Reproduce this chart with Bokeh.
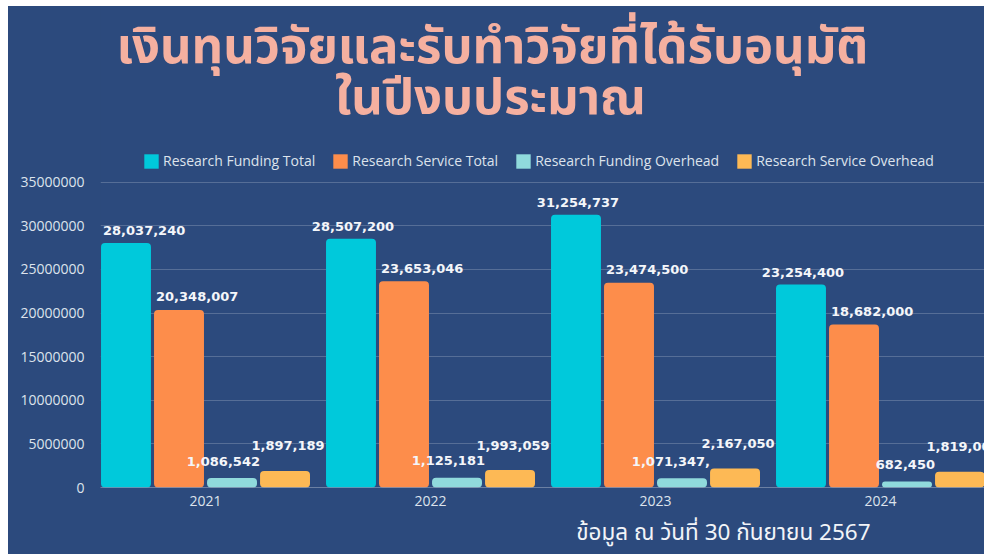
from bokeh.plotting import figure
from bokeh.models import (ColumnDataSource, Range1d, FixedTicker, BasicTickFormatter,
                          Label, Legend, LegendItem, Title)
from bokeh.core.properties import value
from bokeh.embed import file_html
from bokeh.resources import INLINE

# ---- data ----
years = ["2021", "2022", "2023", "2024"]
funding_total = [28037240, 28507200, 31254737, 23254400]
service_total = [20348007, 23653046, 23474500, 18682000]
funding_overhead = [1086542, 1125181, 1071347, 682450]
service_overhead = [1897189, 1993059, 2167050, 1819000]
funding_overhead_labels = ["1,086,542", "1,125,181", "1,071,347,", "682,450"]
series_names = ["Research Funding Total", "Research Service Total",
                "Research Funding Overhead", "Research Service Overhead"]
y_ticks = [0, 5000000, 10000000, 15000000, 20000000, 25000000, 30000000, 35000000]

title_line1 = "เงินทุนวิจัยและรับทำวิจัยที่ได้รับอนุมัติ"
title_line2 = "ในปีงบประมาณ"
footer_text = "ข้อมูล ณ วันที่ 30 กันยายน 2567"

# ---- styles ----
BG = "#2c4a7d"
colors = ["#00c9db", "#fd8d4b", "#90dadc", "#fdb955"]
TXT = "#dde3ec"
THAI_FONT = "Noto Sans Thai"

series = [funding_total, service_total, funding_overhead, service_overhead]
labels = [[f"{v:,}" for v in funding_total],
          [f"{v:,}" for v in service_total],
          funding_overhead_labels,
          [f"{v:,}" for v in service_overhead]]
aligns = [["left", "center", "center", "center"],
          ["left"] * 4,
          ["right"] * 4,
          ["center"] * 4]
x_offs = [2, 2, 3, 3]
y_offs = [-12, -13, -17, -25]

# layout geometry (page px)
FIG_X, FIG_Y = 8, 6
W, H = 976, 548
FRAME_L, FRAME_B = 100, 488
PX_35M = 306.0
X0 = -0.4667
CAT_PX = 225.0
frame_h = FRAME_B - FIG_Y
frame_w = FIG_X + W - FRAME_L
y_max = 35000000 * frame_h / PX_35M

def xd(px):
    return X0 + (px - FRAME_L) / CAT_PX

def yd(py):
    return (FRAME_B - py) * 35000000 / PX_35M

step = 0.2356
bw = 0.222

p = figure(width=W, height=H, output_backend="svg", toolbar_location=None,
           x_range=Range1d(X0, X0 + frame_w / CAT_PX), y_range=Range1d(0, y_max),
           min_border_left=FRAME_L - FIG_X, min_border_right=0, min_border_top=0,
           min_border_bottom=FIG_Y + H - FRAME_B)
p.margin = (FIG_Y, 0, 0, FIG_X)
p.styles = {"background-color": BG}
p.background_fill_color = BG
p.border_fill_color = BG
p.outline_line_color = None

items = []
for i, vals in enumerate(series):
    off = (i - 1.5) * step
    xs = [k + off for k in range(len(years))]
    anchor = []
    for k, a in enumerate(aligns[i]):
        if a == "left":
            anchor.append(xs[k] - bw / 2)
        elif a == "right":
            anchor.append(xs[k] + bw / 2)
        else:
            anchor.append(xs[k])
    src = ColumnDataSource(dict(x=xs, top=vals, lx=anchor, lab=labels[i], al=aligns[i]))
    r = p.vbar(x="x", top="top", width=bw, source=src, fill_color=colors[i],
               line_color=None, border_radius=4)
    items.append(LegendItem(label=series_names[i], renderers=[r]))
    p.text(x="lx", y="top", text="lab", source=src, text_align="al",
           text_baseline="middle", x_offset=x_offs[i], y_offset=y_offs[i],
           text_color="#f4f6fa", text_font_size="13px", text_font_style="bold",
           text_font=value("DejaVu Sans"))

legend = Legend(items=items, orientation="horizontal", location=(42, 317),
                glyph_width=18, glyph_height=18, label_standoff=3, spacing=16,
                padding=0, margin=0, background_fill_alpha=0, border_line_color=None,
                label_text_font="Open Sans", label_text_font_size="14px",
                label_text_color=TXT, label_height=18)
p.add_layout(legend, "center")

# axes
p.xaxis.ticker = FixedTicker(ticks=list(range(len(years))))
p.xaxis.major_label_overrides = {k: y for k, y in enumerate(years)}
p.yaxis.ticker = FixedTicker(ticks=y_ticks)
p.yaxis.formatter = BasicTickFormatter(use_scientific=False)
for ax in (p.xaxis, p.yaxis):
    ax.major_tick_line_color = None
    ax.minor_tick_line_color = None
    ax.major_label_text_font = "Open Sans"
    ax.major_label_text_font_size = "14px"
    ax.major_label_text_color = TXT
p.yaxis.axis_line_color = None
p.yaxis.major_label_standoff = 10
p.xaxis.axis_line_color = "#ffffff"
p.xaxis.axis_line_alpha = 0.3
p.xaxis.major_label_standoff = 2
p.xgrid.grid_line_color = None
p.ygrid.grid_line_color = "#ffffff"
p.ygrid.grid_line_alpha = 0.2

# titles (inside the frame area)
for txt, (px, py) in ((title_line1, (492, 48)), (title_line2, (490, 99))):
    p.add_layout(Label(x=xd(px), y=yd(py), text=txt,
                       text_align="center", text_baseline="middle",
                       text_font=THAI_FONT, text_font_style="bold",
                       text_font_size="49px", text_color="#f5b0a0"))

# footer below the axis
p.add_layout(Title(text=footer_text, align="right", offset=114, standoff=10,
                   text_font=THAI_FONT, text_font_style="normal",
                   text_font_size="22.5px", text_color="#f2f4f8"), "below")

open("out.html", "w").write(file_html(p, INLINE))
